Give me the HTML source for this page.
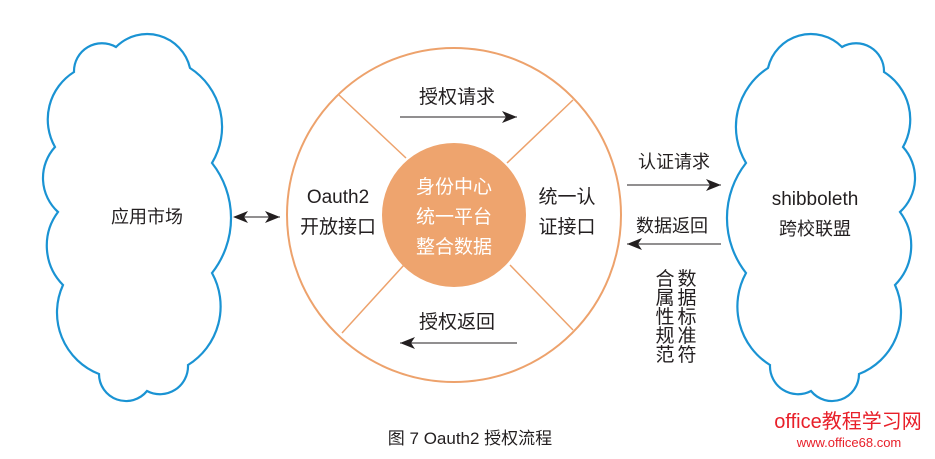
<!DOCTYPE html>
<html><head><meta charset="utf-8"><style>
body{margin:0;background:#fff}
svg{display:block}
text{font-family:"Liberation Sans","Noto Sans CJK SC",sans-serif;fill:#231f20}
</style></head><body>
<svg width="935" height="459" viewBox="0 0 935 459" xmlns="http://www.w3.org/2000/svg">
<defs>
<marker id="ah" markerWidth="16" markerHeight="12" refX="15" refY="6" orient="auto" markerUnits="userSpaceOnUse">
<path d="M0,0 L15,6 L0,12 L4,6 Z" fill="#231f20"/></marker>
<marker id="ahs" markerWidth="16" markerHeight="12" refX="1" refY="6" orient="auto" markerUnits="userSpaceOnUse">
<path d="M15,0 L0,6 L15,12 L11,6 Z" fill="#231f20"/></marker>
<path id="cloud" fill="none" stroke="#1a93d3" stroke-width="2.2" d="M116,47 A44,44 0 0 1 190,68 A70,70 0 0 1 212,163 A89,89 0 0 1 212,273 A69,69 0 0 1 188,365 A28,28 0 0 1 147,391 A27,27 0 0 1 99,374 A66,66 0 0 1 63,285 A56,56 0 0 1 58,212 A46,46 0 0 1 55,147 A56,56 0 0 1 74,72 A28,28 0 0 1 116,47 Z"/>
</defs>
<use href="#cloud"/>
<use href="#cloud" transform="translate(958,0) scale(-1,1)"/>
<text x="147" y="223" font-size="18" text-anchor="middle">应用市场</text>
<text x="815" y="205" font-size="19" text-anchor="middle">shibboleth</text>
<text x="815" y="235" font-size="18" text-anchor="middle">跨校联盟</text>

<circle cx="454" cy="215" r="167" fill="none" stroke="#eda26c" stroke-width="2"/>
<g stroke="#eda26c" stroke-width="1.5">
<line x1="339" y1="95" x2="406" y2="158"/>
<line x1="573" y1="100" x2="507" y2="163"/>
<line x1="342" y1="333" x2="404" y2="265"/>
<line x1="573" y1="330" x2="510" y2="265"/>
</g>
<circle cx="454" cy="215" r="72" fill="#eea46e"/>
<g font-size="19" text-anchor="middle">
<text x="454" y="193" style="fill:#fff">身份中心</text>
<text x="454" y="223" style="fill:#fff">统一平台</text>
<text x="454" y="253" style="fill:#fff">整合数据</text>
</g>
<text x="338" y="203" font-size="19" text-anchor="middle">Oauth2</text>
<text x="338" y="233" font-size="19" text-anchor="middle">开放接口</text>
<text x="567" y="203" font-size="19" text-anchor="middle">统一认</text>
<text x="567" y="233" font-size="19" text-anchor="middle">证接口</text>
<text x="457" y="103" font-size="19" text-anchor="middle">授权请求</text>
<text x="457" y="328" font-size="19" text-anchor="middle">授权返回</text>
<g stroke="#231f20" stroke-width="1" fill="none">
<line x1="400" y1="117" x2="517" y2="117" marker-end="url(#ah)"/>
<line x1="517" y1="343" x2="400" y2="343" marker-end="url(#ah)"/>
<line x1="234" y1="217" x2="280" y2="217" marker-end="url(#ah)" marker-start="url(#ahs)"/>
<line x1="627" y1="185" x2="721" y2="185" marker-end="url(#ah)"/>
<line x1="721" y1="244" x2="627" y2="244" marker-end="url(#ah)"/>
</g>
<text x="674" y="168" font-size="18" text-anchor="middle">认证请求</text>
<text x="672" y="232" font-size="18" text-anchor="middle">数据返回</text>
<g font-size="19" text-anchor="middle">
<text x="665" y="285">合</text><text x="665" y="304">属</text><text x="665" y="323">性</text><text x="665" y="342">规</text><text x="665" y="361">范</text>
<text x="687" y="285">数</text><text x="687" y="304">据</text><text x="687" y="323">标</text><text x="687" y="342">准</text><text x="687" y="361">符</text>
</g>
<text x="470" y="444" font-size="17" text-anchor="middle">图 7  Oauth2 授权流程</text>
<text x="848" y="428" font-size="20" text-anchor="middle" style="fill:#e8202a">office教程学习网</text>
<text x="849" y="447" font-size="13" text-anchor="middle" style="fill:#e8202a">www.office68.com</text>
</svg>
</body></html>
